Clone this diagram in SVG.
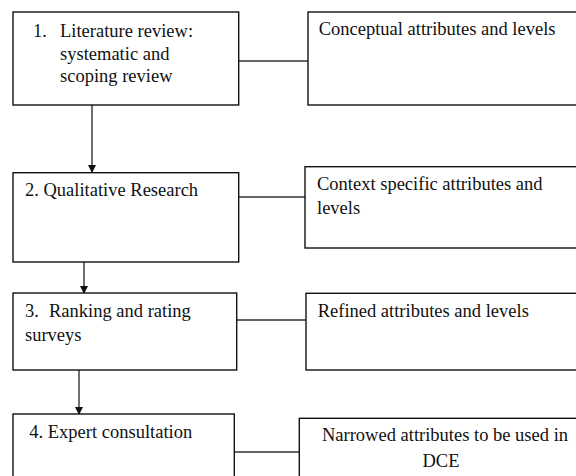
<svg xmlns="http://www.w3.org/2000/svg" width="576" height="476" viewBox="0 0 576 476">
<style>
.box{fill:#fff;stroke:#111;stroke-width:1.4}
.t{font-family:"Liberation Serif","Times New Roman",serif;font-size:18.5px;fill:#111}
.c{fill:none;stroke:#333;stroke-width:1.4}
</style>
<defs>
<marker id="ah" markerWidth="8" markerHeight="9" refX="7" refY="4" orient="auto" markerUnits="userSpaceOnUse" viewBox="0 0 8 8">
<path d="M0,0 L8,4 L0,8 Z" fill="#111"/>
</marker>
</defs>
<rect width="576" height="476" fill="#fff"/>
<g id="connectors">
<line class="c" x1="238.7" y1="61" x2="308" y2="61"/>
<line class="c" x1="238.7" y1="197" x2="305" y2="197"/>
<line class="c" x1="236.7" y1="320" x2="306" y2="320"/>
<line class="c" x1="234.3" y1="452" x2="299.3" y2="452"/>
<line class="c" x1="92" y1="105" x2="92" y2="172" marker-end="url(#ah)"/>
<line class="c" x1="84" y1="262" x2="84" y2="293" marker-end="url(#ah)"/>
<line class="c" x1="79" y1="370" x2="79" y2="414" marker-end="url(#ah)"/>
</g>
<g id="step1">
<rect class="box" x="13" y="12" width="225.7" height="93"/>
<text class="t" x="33" y="36.7">1.</text>
<text class="t" x="60" y="36.7">Literature review:</text>
<text class="t" x="60" y="59.5">systematic and</text>
<text class="t" x="60" y="82.3">scoping review</text>
</g>
<g id="out1">
<rect class="box" x="308" y="12" width="280" height="93"/>
<text class="t" x="318.7" y="35">Conceptual attributes and levels</text>
</g>
<g id="step2">
<rect class="box" x="13" y="172.7" width="225.7" height="89.3"/>
<text class="t" x="25" y="195.7">2. Qualitative Research</text>
</g>
<g id="out2">
<rect class="box" x="305" y="166.7" width="283" height="81.3"/>
<text class="t" x="317" y="190">Context specific attributes and</text>
<text class="t" x="317" y="213.5">levels</text>
</g>
<g id="step3">
<rect class="box" x="13" y="293" width="223.7" height="77"/>
<text class="t" x="25" y="317">3.</text>
<text class="t" x="49" y="317">Ranking and rating</text>
<text class="t" x="25" y="340.5">surveys</text>
</g>
<g id="out3">
<rect class="box" x="306" y="293.3" width="282" height="76.7"/>
<text class="t" x="317.7" y="317">Refined attributes and levels</text>
</g>
<g id="step4">
<rect class="box" x="13" y="414" width="221.3" height="80"/>
<text class="t" x="29.3" y="437.7">4. Expert consultation</text>
</g>
<g id="out4">
<rect class="box" x="299.3" y="418.3" width="290" height="80"/>
<text class="t" x="445" y="441" text-anchor="middle">Narrowed attributes to be used in</text>
<text class="t" x="441" y="466.5" text-anchor="middle">DCE</text>
</g>
</svg>
